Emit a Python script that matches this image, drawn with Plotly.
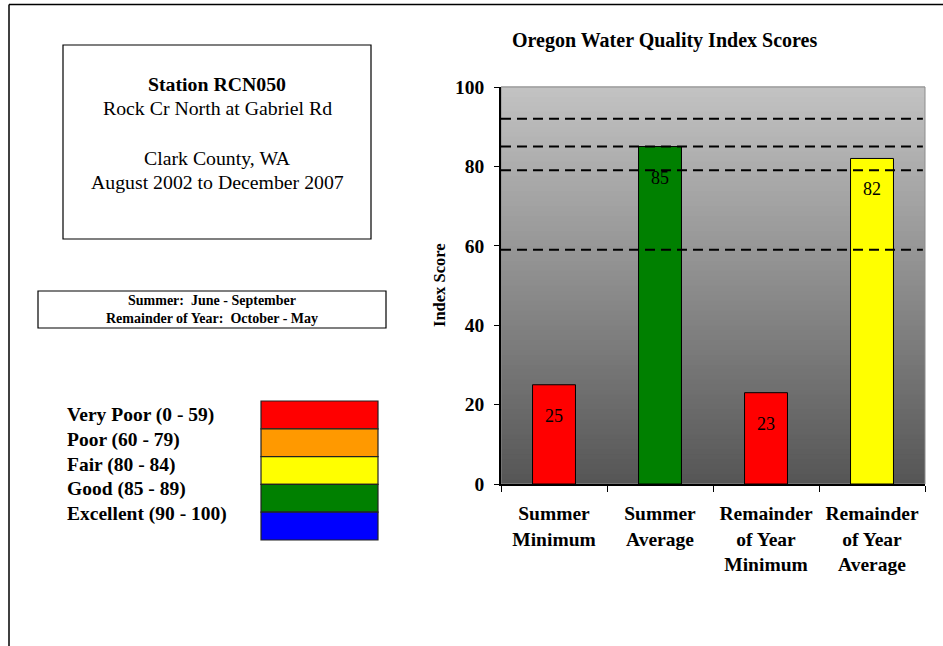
import plotly.graph_objects as go

# ---- data ----
categories = ["Summer<br>Minimum", "Summer<br>Average", "Remainder<br>of Year<br>Minimum", "Remainder<br>of Year<br>Average"]
scores = [25, 85, 23, 82]
bar_colors = ["#ff0000", "#008000", "#ff0000", "#ffff00"]
reference_lines = [92, 85, 79, 59]
y_ticks = [0, 20, 40, 60, 80, 100]

legend_labels = ["Very Poor (0 - 59)", "Poor (60 - 79)", "Fair (80 - 84)", "Good (85 - 89)", "Excellent (90 - 100)"]
legend_colors = ["#ff0000", "#ff9900", "#ffff00", "#008000", "#0000ff"]

station_lines = ["<b>Station RCN050</b>", "Rock Cr North at Gabriel Rd", "", "Clark County, WA", "August 2002 to December 2007"]
season_lines = ["Summer:  June - September", "Remainder of Year:  October - May"]

W, H = 943, 646
SERIF = "Liberation Serif, Times New Roman, serif"


def px(x):
    return x / W


def py(y):
    return 1 - y / H


fig = go.Figure()
fig.add_trace(go.Bar(
    x=categories, y=scores,
    marker=dict(color=bar_colors, line=dict(color="black", width=1)),
    width=0.405, showlegend=False, hoverinfo="x+y",
))

shapes = []
# gradient background of plot area
n = 80
top = (194, 194, 194)
bot = (86, 86, 86)
for i in range(n):
    t = i / (n - 1)
    c = tuple(int(round(bot[k] + (top[k] - bot[k]) * t)) for k in range(3))
    shapes.append(dict(type="rect", xref="x domain", yref="y domain",
                       x0=0, x1=1, y0=i / n, y1=(i + 1) / n + 0.002,
                       fillcolor="rgb(%d,%d,%d)" % c, line=dict(width=0), layer="below"))
# plot frame
shapes.append(dict(type="rect", xref="x domain", yref="y domain", x0=0, x1=1, y0=0, y1=1,
                   line=dict(color="#8c8c8c", width=1), layer="below"))
# dashed reference lines
for v in reference_lines:
    shapes.append(dict(type="line", xref="x domain", yref="y", x0=0, x1=0.995, y0=v, y1=v,
                       line=dict(color="black", width=2, dash="10px,6px"), layer="above"))
# page border (top and left)
shapes.append(dict(type="line", xref="paper", yref="paper", x0=px(9), x1=1.0, y0=py(4.5), y1=py(4.5),
                   line=dict(color="black", width=1.5)))
shapes.append(dict(type="line", xref="paper", yref="paper", x0=px(9), x1=px(9), y0=py(4.5), y1=0,
                   line=dict(color="black", width=1.5)))
# station box
shapes.append(dict(type="rect", xref="paper", yref="paper", x0=px(63), x1=px(371), y0=py(45), y1=py(239),
                   line=dict(color="black", width=1.2)))
# season box
shapes.append(dict(type="rect", xref="paper", yref="paper", x0=px(38), x1=px(386), y0=py(291), y1=py(328),
                   line=dict(color="black", width=1.2)))
# legend color boxes
row_h = (540 - 401) / len(legend_colors)
for i, col in enumerate(legend_colors):
    shapes.append(dict(type="rect", xref="paper", yref="paper", x0=px(261), x1=px(378),
                       y0=py(401 + i * row_h), y1=py(401 + (i + 1) * row_h),
                       fillcolor=col, line=dict(color="#222222", width=1.2)))

annotations = []
# chart title
annotations.append(dict(text="<b>Oregon Water Quality Index Scores</b>", xref="paper", yref="paper",
                        x=px(664), y=py(40), showarrow=False, xanchor="center", yanchor="middle",
                        font=dict(family=SERIF, size=20, color="black")))
# y axis title
annotations.append(dict(text="<b>Index Score</b>", xref="paper", yref="paper", x=px(439), y=py(285),
                        textangle=-90, showarrow=False, xanchor="center", yanchor="middle",
                        font=dict(family=SERIF, size=16.5, color="black")))
# bar value labels
for c, v in zip(categories, scores):
    annotations.append(dict(text=str(v), x=c, y=v, xref="x", yref="y", showarrow=False,
                            yanchor="middle", yshift=-31,
                            font=dict(family=SERIF, size=18, color="black")))
# station box text
station_y = [84, 108, 133, 158, 182]
for txt, yy in zip(station_lines, station_y):
    if txt:
        annotations.append(dict(text=txt, xref="paper", yref="paper", x=px(217), y=py(yy),
                                showarrow=False, xanchor="center", yanchor="middle",
                                font=dict(family=SERIF, size=19.8, color="black")))
# season box text
for txt, yy in zip(season_lines, [300, 318]):
    annotations.append(dict(text="<b>%s</b>" % txt, xref="paper", yref="paper", x=px(212), y=py(yy),
                            showarrow=False, xanchor="center", yanchor="middle",
                            font=dict(family=SERIF, size=14, color="black")))
# legend labels
for i, txt in enumerate(legend_labels):
    annotations.append(dict(text="<b>%s</b>" % txt, xref="paper", yref="paper", x=px(65),
                            y=py(415 + i * 24.8), showarrow=False, xanchor="left", yanchor="middle",
                            font=dict(family=SERIF, size=19.5, color="black")))

fig.update_layout(
    width=W, height=H,
    margin=dict(l=0, r=0, t=0, b=0, pad=0, autoexpand=False),
    paper_bgcolor="white", plot_bgcolor="rgba(0,0,0,0)",
    font=dict(family=SERIF, color="black"),
    shapes=shapes, annotations=annotations,
    bargap=0.595,
    xaxis=dict(domain=[px(501), px(925)], showgrid=False, zeroline=False, automargin=False,
               showline=True, linecolor="black", linewidth=1.5,
               ticks="outside", ticklen=6, tickcolor="black", tickson="boundaries",
               tickfont=dict(family=SERIF, size=19.5, color="black", weight="bold"),
               ticklabelstandoff=11,
               fixedrange=True),
    yaxis=dict(domain=[py(484), py(87)], range=[0, 100], tickvals=y_ticks, automargin=False,
               showgrid=False, zeroline=False, showline=True, linecolor="black", linewidth=1.5,
               ticks="outside", ticklen=5, tickcolor="black",
               tickfont=dict(family=SERIF, size=19.5, color="black", weight="bold"),
               ticklabelstandoff=6,
               fixedrange=True),
)

fig.write_html("out.html", config={"displayModeBar": False},
               post_script="document.body.style.margin='0px';")
